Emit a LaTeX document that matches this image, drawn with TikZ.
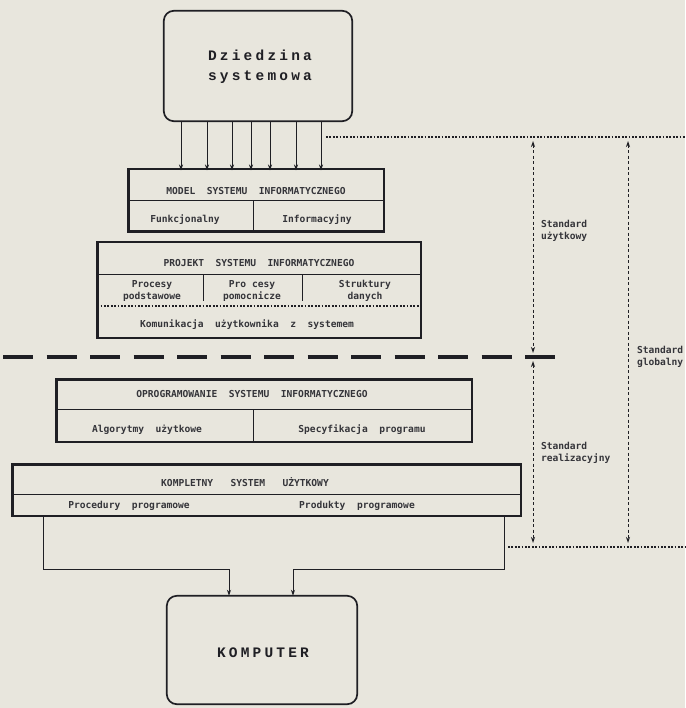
\documentclass[tikz,border=0pt]{standalone}
\usepackage{fontspec}
\setmonofont{DejaVu Sans Mono}
\newfontfamily\bigmono[LetterSpace=22]{Liberation Mono}
\usetikzlibrary{arrows.meta}
\definecolor{paper}{HTML}{E8E6DD}
\definecolor{ink}{HTML}{1F1F24}
\begin{document}
\begin{tikzpicture}[x=1pt,y=-1pt,
  every node/.style={inner sep=0pt, outer sep=0pt},
  txt/.style={font=\ttfamily\bfseries\fontsize{9.6}{12.5}\selectfont, text=ink!90, align=center},
  bigtxt/.style={font=\bigmono\bfseries\fontsize{14.5}{20}\selectfont, text=ink, align=center},
  heavybox/.style={draw=ink, line width=2.6pt},
  roundbox/.style={draw=ink, line width=1.7pt, rounded corners=10pt},
  thin/.style={draw=ink, line width=1pt},
  arr/.style={draw=ink, line width=1pt, -{Stealth[length=6pt,width=4pt]}},
  dotline/.style={draw=ink, line width=1.2pt, dash pattern=on 1.8pt off 1.6pt},
  stdarrow/.style={draw=ink, line width=1pt, dash pattern=on 3pt off 2.5pt,
     {Stealth[length=6pt,width=4pt]}-{Stealth[length=6pt,width=4pt]}},
  heavydash/.style={draw=ink, line width=4pt, dash pattern=on 30pt off 13.5pt},
]
\fill[paper] (0,0) rectangle (685,708);
\useasboundingbox (0,0) rectangle (685,708);

% Dziedzina systemowa
\node[roundbox, minimum width=188.4pt, minimum height=110.4pt] (dz) at (258,66) {};
\node[bigtxt] (dzt) at (260,67) {Dziedzina\\systemowa};

% Model systemu
\node[heavybox, minimum width=255.6pt, minimum height=62.6pt] (model) at (256,200.5) {};
\node[txt] (modelt) at (256,191) {MODEL~~SYSTEMU~~INFORMATYCZNEGO};
\draw[thin] (model.west |- 0,201) -- (model.east |- 0,201);
\draw[thin] (253,201) -- (253,0 |- model.south);
\node[txt] (funk) at (185,220) {Funkcjonalny};
\node[txt] (info) at (317,220) {Informacyjny};

% arrows from Dziedzina to Model
\foreach \xx in {181,207,232,251,270,296,321}
  \draw[arr] (\xx,0 |- dz.south) -- ([yshift=-1.3pt]\xx,0 |- model.north);

% Projekt systemu
\node[heavybox, minimum width=323.6pt, minimum height=95.6pt] (proj) at (259,290) {};
\node[txt] (projt) at (259,263) {PROJEKT~~SYSTEMU~~INFORMATYCZNEGO};
\draw[thin] (proj.west |- 0,274) -- (proj.east |- 0,274);
\draw[thin] (203,274) -- (203,301);
\draw[thin] (302,274) -- (302,301);
\node[txt] (pp) at (152,291) {Procesy\\podstawowe};
\node[txt] (pc) at (252,291) {Pro cesy\\pomocnicze};
\node[txt] (sd) at (365,291) {Struktury\\danych};
\draw[dotline] (proj.west |- 0,306) -- (proj.east |- 0,306);
\node[txt] (kom) at (247,325) {Komunikacja~~użytkownika~~z~~systemem};

% heavy dashed divider
\coordinate (dl) at (3,357);
\coordinate (dr) at (555,357);
\draw[heavydash] (dl) -- (dr);

% Oprogramowanie
\node[heavybox, minimum width=415.6pt, minimum height=62.6pt] (oprog) at (264,410.5) {};
\node[txt] (oprogt) at (252,394) {OPROGRAMOWANIE~~SYSTEMU~~INFORMATYCZNEGO};
\draw[thin] (oprog.west |- 0,409) -- (oprog.east |- 0,409);
\draw[thin] (253,409) -- (253,0 |- oprog.south);
\node[txt] (alg) at (147,430) {Algorytmy~~użytkowe};
\node[txt] (spec) at (362,430) {Specyfikacja~~programu};

% Kompletny system
\node[heavybox, minimum width=508.6pt, minimum height=51.6pt] (kompl) at (266.5,490) {};
\node[txt] (komplt) at (245,482) {KOMPLETNY~~~SYSTEM~~~UŻYTKOWY};
\draw[thin] (kompl.west |- 0,494) -- (kompl.east |- 0,494);
\node[txt] (proc) at (129,506) {Procedury~~programowe};
\node[txt] (prod) at (357,506) {Produkty~~programowe};

% Komputer
\node[roundbox, minimum width=190.4pt, minimum height=108.4pt] (komp) at (262,650) {};
\node[bigtxt] (kompt) at (263,653) {KOMPUTER};

% connectors Kompletny -> Komputer
\coordinate (b1) at (229,569);
\coordinate (b2) at (293,569);
\draw[arr] (43,0 |- kompl.south) |- (b1) -- (b1 |- komp.north);
\draw[arr] (504,0 |- kompl.south) |- (b2) -- (b2 |- komp.north);

% dotted standard boundaries
\coordinate (tl) at (326,137);
\coordinate (tr) at (685,137);
\draw[dotline] (tl) -- (tr);
\coordinate (bl) at (508,547);
\coordinate (br) at (685,547);
\draw[dotline] (bl) -- (br);

% standard arrows
\coordinate (u1) at (533,141);
\coordinate (u2) at (533,353);
\coordinate (r1) at (533,361);
\coordinate (r2) at (533,543);
\coordinate (g1) at (628,141);
\coordinate (g2) at (628,543);
\draw[stdarrow] (u1) -- (u2);
\draw[stdarrow] (r1) -- (r2);
\draw[stdarrow] (g1) -- (g2);

\node[txt, anchor=west, align=left] (su) at (541,231) {Standard\\użytkowy};
\node[txt, anchor=west, align=left] (sg) at (637,357) {Standard\\globalny};
\node[txt, anchor=west, align=left] (sr) at (541,453) {Standard\\realizacyjny};
\end{tikzpicture}
\end{document}
